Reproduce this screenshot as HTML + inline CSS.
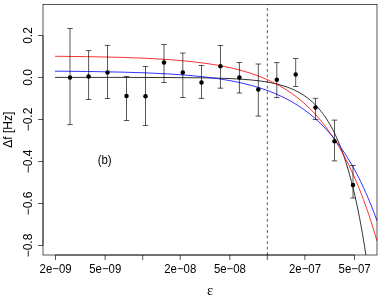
<!DOCTYPE html>
<html><head><meta charset="utf-8"><style>html,body{margin:0;padding:0;background:#fff;overflow:hidden}svg{display:block;will-change:transform}</style></head><body><svg width="382" height="300" viewBox="0 0 382 300">
<defs><clipPath id="c"><rect x="43" y="4.5" width="334" height="250.5"/></clipPath></defs>
<rect width="382" height="300" fill="#fff"/>
<g clip-path="url(#c)" fill="none" stroke-width="0.8">
<path d="M55.00,77.397 C76.667,77.398 98.333,77.399 120.00,77.415 C136.667,77.428 153.333,77.444 170.00,77.523 C181.667,77.578 193.333,77.660 205.00,77.861 C213.333,78.005 221.667,78.207 230.00,78.569 C236.667,78.858 243.333,79.247 250.00,79.852 C256.000,80.396 262.000,81.113 268.00,82.171 C273.333,83.112 278.667,84.320 284.00,86.019 C288.667,87.505 293.333,89.365 298.00,91.858 C302.000,93.995 306.000,96.596 310.00,99.924 C313.667,102.975 317.333,106.635 321.00,111.215 C324.333,115.379 327.667,120.301 331.00,126.325 C334.000,131.747 337.000,138.060 340.00,145.619 C342.667,152.338 345.333,160.042 348.00,169.070 C350.333,176.971 352.667,185.886 355.00,196.117 C357.000,204.887 359.000,214.623 361.00,225.568 C362.667,234.689 364.333,244.649 366.00,255.620 C366.667,260.008 367.333,264.559 368.00,269.283" stroke="#000"/>
<path d="M55.00,56.257 C76.667,56.439 98.333,56.709 120.00,57.323 C136.667,57.795 153.333,58.465 170.00,59.668 C181.667,60.511 193.333,61.616 205.00,63.237 C213.333,64.394 221.667,65.817 230.00,67.664 C236.667,69.142 243.333,70.893 250.00,73.042 C256.000,74.975 262.000,77.231 268.00,79.938 C273.333,82.345 278.667,85.108 284.00,88.354 C288.667,91.194 293.333,94.403 298.00,98.093 C302.000,101.256 306.000,104.772 310.00,108.730 C313.667,112.359 317.333,116.359 321.00,120.816 C324.333,124.868 327.667,129.298 331.00,134.183 C334.000,138.580 337.000,143.345 340.00,148.548 C342.667,153.172 345.333,158.141 348.00,163.512 C350.333,168.211 352.667,173.217 355.00,178.574 C357.000,183.165 359.000,188.013 361.00,193.150 C362.667,197.430 364.333,201.910 366.00,206.610 C367.667,211.309 369.333,216.228 371.00,221.389 C373.000,227.581 375.000,234.120 377.00,241.048" stroke="#f00"/>
<path d="M55.00,71.165 C76.667,71.320 98.333,71.549 120.00,72.064 C136.667,72.461 153.333,73.022 170.00,74.023 C181.667,74.724 193.333,75.641 205.00,76.981 C213.333,77.938 221.667,79.113 230.00,80.634 C236.667,81.850 243.333,83.289 250.00,85.052 C256.000,86.638 262.000,88.486 268.00,90.700 C273.333,92.667 278.667,94.924 284.00,97.571 C288.667,99.887 293.333,102.501 298.00,105.503 C302.000,108.075 306.000,110.933 310.00,114.146 C313.667,117.091 317.333,120.335 321.00,123.946 C324.333,127.229 327.667,130.814 331.00,134.765 C334.000,138.321 337.000,142.172 340.00,146.372 C342.667,150.106 345.333,154.116 348.00,158.446 C350.333,162.235 352.667,166.270 355.00,170.583 C357.000,174.280 359.000,178.183 361.00,182.315 C362.667,185.758 364.333,189.361 366.00,193.138 C367.667,196.916 369.333,200.868 371.00,205.012 C373.000,209.985 375.000,215.233 377.00,220.791" stroke="#00f"/>
</g>
<line x1="267.35" y1="255.0" x2="267.35" y2="4.5" stroke="#000" stroke-width="0.66" stroke-dasharray="2.775,2.775"/>
<g stroke="#000" stroke-width="0.66" fill="none">
<path d="M70.0,28.5 V124.6 M67.25,28.5 H72.75 M67.25,124.6 H72.75"/>
<path d="M88.6,50.6 V99.5 M85.85,50.6 H91.35 M85.85,99.5 H91.35"/>
<path d="M107.5,45.4 V98.5 M104.75,45.4 H110.25 M104.75,98.5 H110.25"/>
<path d="M126.5,76.5 V120.5 M123.75,76.5 H129.25 M123.75,120.5 H129.25"/>
<path d="M145.5,66.5 V125.5 M142.75,66.5 H148.25 M142.75,125.5 H148.25"/>
<path d="M164,44.5 V82.5 M161.25,44.5 H166.75 M161.25,82.5 H166.75"/>
<path d="M182.8,53 V97.5 M180.05,53 H185.55 M180.05,97.5 H185.55"/>
<path d="M201.5,65.5 V98.4 M198.75,65.5 H204.25 M198.75,98.4 H204.25"/>
<path d="M220.45,45.5 V88.2 M217.7,45.5 H223.2 M217.7,88.2 H223.2"/>
<path d="M239.4,62.5 V93 M236.65,62.5 H242.15 M236.65,93 H242.15"/>
<path d="M258.3,64 V116.1 M255.55,64 H261.05 M255.55,116.1 H261.05"/>
<path d="M276.8,62.6 V97.6 M274.05,62.6 H279.55 M274.05,97.6 H279.55"/>
<path d="M295.7,58.5 V86.5 M292.95,58.5 H298.45 M292.95,86.5 H298.45"/>
<path d="M315.5,98.3 V119.5 M312.75,98.3 H318.25 M312.75,119.5 H318.25"/>
<path d="M334.5,120.1 V160.9 M331.75,120.1 H337.25 M331.75,160.9 H337.25"/>
<path d="M353.0,165.5 V198 M350.25,165.5 H355.75 M350.25,198 H355.75"/>
</g>
<circle cx="70.0" cy="77.5" r="2.25" fill="#000"/>
<circle cx="88.6" cy="76.5" r="2.25" fill="#000"/>
<circle cx="107.5" cy="72.5" r="2.25" fill="#000"/>
<circle cx="126.5" cy="95.9" r="2.25" fill="#000"/>
<circle cx="145.5" cy="96.2" r="2.25" fill="#000"/>
<circle cx="164" cy="62.5" r="2.25" fill="#000"/>
<circle cx="182.8" cy="72.5" r="2.25" fill="#000"/>
<circle cx="201.5" cy="82.4" r="2.25" fill="#000"/>
<circle cx="220.45" cy="66.2" r="2.25" fill="#000"/>
<circle cx="239.4" cy="77.6" r="2.25" fill="#000"/>
<circle cx="258.3" cy="89.5" r="2.25" fill="#000"/>
<circle cx="276.8" cy="79.8" r="2.25" fill="#000"/>
<circle cx="295.7" cy="74.5" r="2.25" fill="#000"/>
<circle cx="315.5" cy="107.5" r="2.25" fill="#000"/>
<circle cx="334.5" cy="141.2" r="2.25" fill="#000"/>
<circle cx="353.0" cy="185.0" r="2.25" fill="#000"/>
<rect x="43.0" y="4.5" width="334.0" height="250.5" fill="none" stroke="#000" stroke-width="0.66"/>
<g stroke="#000" stroke-width="0.66" fill="none">
<line x1="55.50" y1="255.0" x2="55.50" y2="260.0"/>
<line x1="105.12" y1="255.0" x2="105.12" y2="260.0"/>
<line x1="142.66" y1="255.0" x2="142.66" y2="260.0"/>
<line x1="180.19" y1="255.0" x2="180.19" y2="260.0"/>
<line x1="229.81" y1="255.0" x2="229.81" y2="260.0"/>
<line x1="267.35" y1="255.0" x2="267.35" y2="260.0"/>
<line x1="304.88" y1="255.0" x2="304.88" y2="260.0"/>
<line x1="354.50" y1="255.0" x2="354.50" y2="260.0"/>
<line x1="55.50" y1="255.0" x2="354.50" y2="255.0"/>
<line x1="43.0" y1="35.50" x2="43.0" y2="245.50"/>
<line x1="43.0" y1="35.50" x2="38.0" y2="35.50"/>
<line x1="43.0" y1="77.50" x2="38.0" y2="77.50"/>
<line x1="43.0" y1="119.50" x2="38.0" y2="119.50"/>
<line x1="43.0" y1="161.50" x2="38.0" y2="161.50"/>
<line x1="43.0" y1="203.50" x2="38.0" y2="203.50"/>
<line x1="43.0" y1="245.50" x2="38.0" y2="245.50"/>
</g>
<g font-family="Liberation Sans, sans-serif" fill="#000">
<text transform="translate(55.60,273.10) scale(1,1.08)" font-size="11.4px" text-anchor="middle">2e−09</text>
<text transform="translate(105.22,273.10) scale(1,1.08)" font-size="11.4px" text-anchor="middle">5e−09</text>
<text transform="translate(180.29,273.10) scale(1,1.08)" font-size="11.4px" text-anchor="middle">2e−08</text>
<text transform="translate(229.91,273.10) scale(1,1.08)" font-size="11.4px" text-anchor="middle">5e−08</text>
<text transform="translate(304.98,273.10) scale(1,1.08)" font-size="11.4px" text-anchor="middle">2e−07</text>
<text transform="translate(354.60,273.10) scale(1,1.08)" font-size="11.4px" text-anchor="middle">5e−07</text>
<text transform="translate(32.20,35.50) rotate(-90)" font-size="12.0px" text-anchor="middle">0.2</text>
<text transform="translate(32.20,77.50) rotate(-90)" font-size="12.0px" text-anchor="middle">0.0</text>
<text transform="translate(32.20,119.50) rotate(-90)" font-size="12.0px" text-anchor="middle">−0.2</text>
<text transform="translate(32.20,161.50) rotate(-90)" font-size="12.0px" text-anchor="middle">−0.4</text>
<text transform="translate(32.20,203.50) rotate(-90)" font-size="12.0px" text-anchor="middle">−0.6</text>
<text transform="translate(32.20,245.50) rotate(-90)" font-size="12.0px" text-anchor="middle">−0.8</text>
<text transform="translate(12.00,129.70) rotate(-90)" font-size="12.0px" text-anchor="middle">Δf [Hz]</text>
<text x="210.1" y="295.2" font-family="Liberation Serif, serif" font-size="14.5px" text-anchor="middle">ε</text>
<text transform="translate(104.70,164.40) scale(1,1.08)" font-size="11.4px" text-anchor="middle">(b)</text>
</g>
</svg></body></html>
